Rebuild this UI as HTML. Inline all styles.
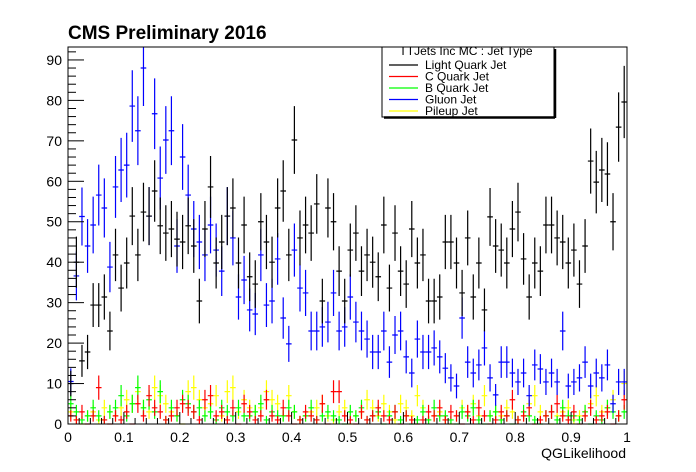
<!DOCTYPE html>
<html><head><meta charset="utf-8">
<style>body{margin:0;background:#fff}svg{display:block;font-family:"Liberation Sans",Arial,sans-serif}</style>
</head><body>
<svg id="chart" width="696" height="472"></svg>
<script>
const lightQuark=[10,40,15.6,17.8,29.4,29.4,31.4,23,41.8,33.6,39.8,51.4,41.8,52.4,51.4,57.6,49,47.2,48.2,45.7,45,49,44,30.4,48.2,58.6,39.8,45,51.4,53.4,39.8,49.2,36.4,34.6,50,45,40,53.4,57.6,41.8,70.2,46,49.2,47.2,54.4,30.4,53.4,50,37.8,30.4,43,47.2,37.8,41.8,40,36.4,49.2,33.6,47.2,37.8,34.6,48.2,39.8,41.8,30.4,30.4,31.4,45,45,39.8,32.4,46,31.4,39.8,28.2,51.2,44,43,39.8,48.2,52.4,40.8,31.4,39.8,37.8,49.2,49.2,46,45,39.8,43,34.6,44,65,59.8,62.8,61.8,50,73.4,79.6];
const gluon=[10.5,36.6,51.3,44,49.2,56.6,53.4,38.8,58.6,62.8,64,78.6,72.5,88,51.4,76.7,60.8,70.2,72.5,44,66,56.6,48.2,45,41.8,49.2,43,37.8,51.4,46,31.4,35.6,28.2,27.2,41.8,29.4,30.4,40.8,26.2,19.8,43,33.6,32.4,23,23,24,25.2,32.4,23,24,31.4,25.2,23,21,17.8,17.8,23,15.3,22,23,16.6,12.6,21,17.8,17.8,18.8,16.6,13.8,11.4,9.4,26.2,15.3,12.6,14.6,18.8,11.4,7.2,15.3,15.3,12.6,10.4,12.6,7,14.6,13.6,10.4,12.6,10.4,23,9.4,10.4,11.4,15.3,9.4,12.6,11.4,14.6,5,10.4,10.4];
const cQuark=[2,1,3,0,2,9,1,0,2,1,3,0,5,2,7,4,3,1,2,4,5,4,3,1,6,7,2,3,1,4,0,5,3,1,2,6,2,1,4,2,0,1,3,2,1,5,0,8,8,2,1,0,3,1,2,4,2,1,3,0,2,1,0,1,3,2,4,1,3,2,0,3,1,4,2,0,1,3,2,6,1,2,4,0,1,2,3,5,2,1,3,0,2,4,1,2,3,0,2,6];
const bQuark=[5,3,1,2,4,2,1,3,4,7,2,5,9,4,6,3,8,1,4,2,6,5,3,4,2,3,1,4,3,2,4,2,2,3,5,1,3,2,2,4,3,1,2,4,1,2,3,2,1,0,3,2,4,1,2,3,0,2,3,1,2,0,1,3,1,4,2,2,1,0,3,2,4,1,0,2,3,1,2,0,1,3,2,1,0,2,3,1,4,2,2,1,3,0,2,1,4,3,2,3];
const pileup=[3,1,0,2,3,1,4,3,2,4,6,5,8,4,3,9,7,5,3,2,0,8,9,6,4,5,7,2,8,9,3,6,4,3,4,8,6,5,2,7,3,1,2,3,4,5,2,1,3,4,0,2,3,6,4,2,5,3,1,5,4,2,7,4,1,2,3,1,0,2,4,3,5,2,7,2,3,2,4,3,1,2,5,7,3,2,0,2,3,4,1,2,3,5,7,3,4,6,2,10];
const xTicks=["0","0.1","0.2","0.3","0.4","0.5","0.6","0.7","0.8","0.9","1"];
const yTicks=[0,10,20,30,40,50,60,70,80,90];
const legendLabels=["Light Quark Jet","C Quark Jet","B Quark Jet","Gluon Jet","Pileup Jet"];
const legendColors=["#000","#f00","#0f0","#00f","#ff0"];

const NS="http://www.w3.org/2000/svg";
const svg=document.getElementById('chart');
const X0=68,X1=627,Y0=424,Y1=47,YMAX=93.2;
const xs=v=>X0+(X1-X0)*v;
const ys=v=>Y0-(Y0-Y1)*v/YMAX;
function mk(tag,attrs,parent){const e=document.createElementNS(NS,tag);for(const k in attrs)e.setAttribute(k,attrs[k]);(parent||svg).appendChild(e);return e;}

const title=mk('text',{x:68,y:39,'font-size':19,'font-weight':'bold'});
title.textContent="CMS Preliminary 2016";



function drawSeries(arr,color,name){
  const g=mk('g',{stroke:color,'stroke-width':1.2});
  
  
  const n=arr.length,w=1/n;
  arr.forEach((v,i)=>{
    const cx=xs((i+0.5)*w),y=ys(v),e=Math.sqrt(v);
    const p=mk('path',{d:`M${xs(i*w)},${y}H${xs((i+1)*w)}M${cx},${ys(Math.max(0,v-e))}V${ys(Math.min(YMAX,v+e))}`,fill:'none'},g);
    
    
  });
}
drawSeries(pileup,'#ff0','pileup-jet');
drawSeries(bQuark,'#0f0','b-quark-jet');
drawSeries(cQuark,'#f00','c-quark-jet');
drawSeries(gluon,'#00f','gluon-jet');
drawSeries(lightQuark,'#000','light-quark-jet');

const frame=mk('rect',{x:X0,y:Y1,width:X1-X0,height:Y0-Y1,fill:'none',stroke:'#000','stroke-width':1});



// ticks
const ax=mk('g',{stroke:'#000','stroke-width':1});


for(let i=0;i<=50;i++){const x=xs(i/50);const L=i%5==0?12:6;mk('line',{x1:x,x2:x,y1:Y0,y2:Y0-L},ax);}
for(let v=0;v<=YMAX;v+=2){const y=ys(v);const L=v%10==0?16:8;mk('line',{x1:X0,x2:X0+L,y1:y,y2:y},ax);}
xTicks.forEach((t,i)=>{const e=mk('text',{x:xs(i/10),y:442,'font-size':14,'text-anchor':'middle'});e.textContent=t;
  });
yTicks.forEach(v=>{const e=mk('text',{x:62,y:ys(v)+5,'font-size':14,'text-anchor':'end'});e.textContent=v;
  });
const xt=mk('text',{x:626,y:458,'font-size':14,'text-anchor':'end'});xt.textContent="QGLikelihood";


// legend
const lg=mk('g',{});


mk('rect',{x:382,y:47,width:172,height:70,fill:'#fff',stroke:'#000','stroke-width':1},lg);
mk('line',{x1:384,y1:117.5,x2:555,y2:117.5,stroke:'#000','stroke-width':2.5},lg);
mk('line',{x1:555,y1:49,x2:555,y2:118,stroke:'#000','stroke-width':2.5},lg);
const lh=mk('text',{x:466,y:55,'font-size':12,'text-anchor':'middle'},lg);lh.textContent="TTJets Inc MC : Jet Type";
legendLabels.forEach((t,i)=>{const y=65+i*11.5;
  const le=mk('g',{},lg);
  
  
  mk('line',{x1:389,x2:418,y1:y,y2:y,stroke:legendColors[i],'stroke-width':1.2},le);
  const tx=mk('text',{x:425,y:y+4,'font-size':12},le);tx.textContent=t;});
</script>
</body></html>
